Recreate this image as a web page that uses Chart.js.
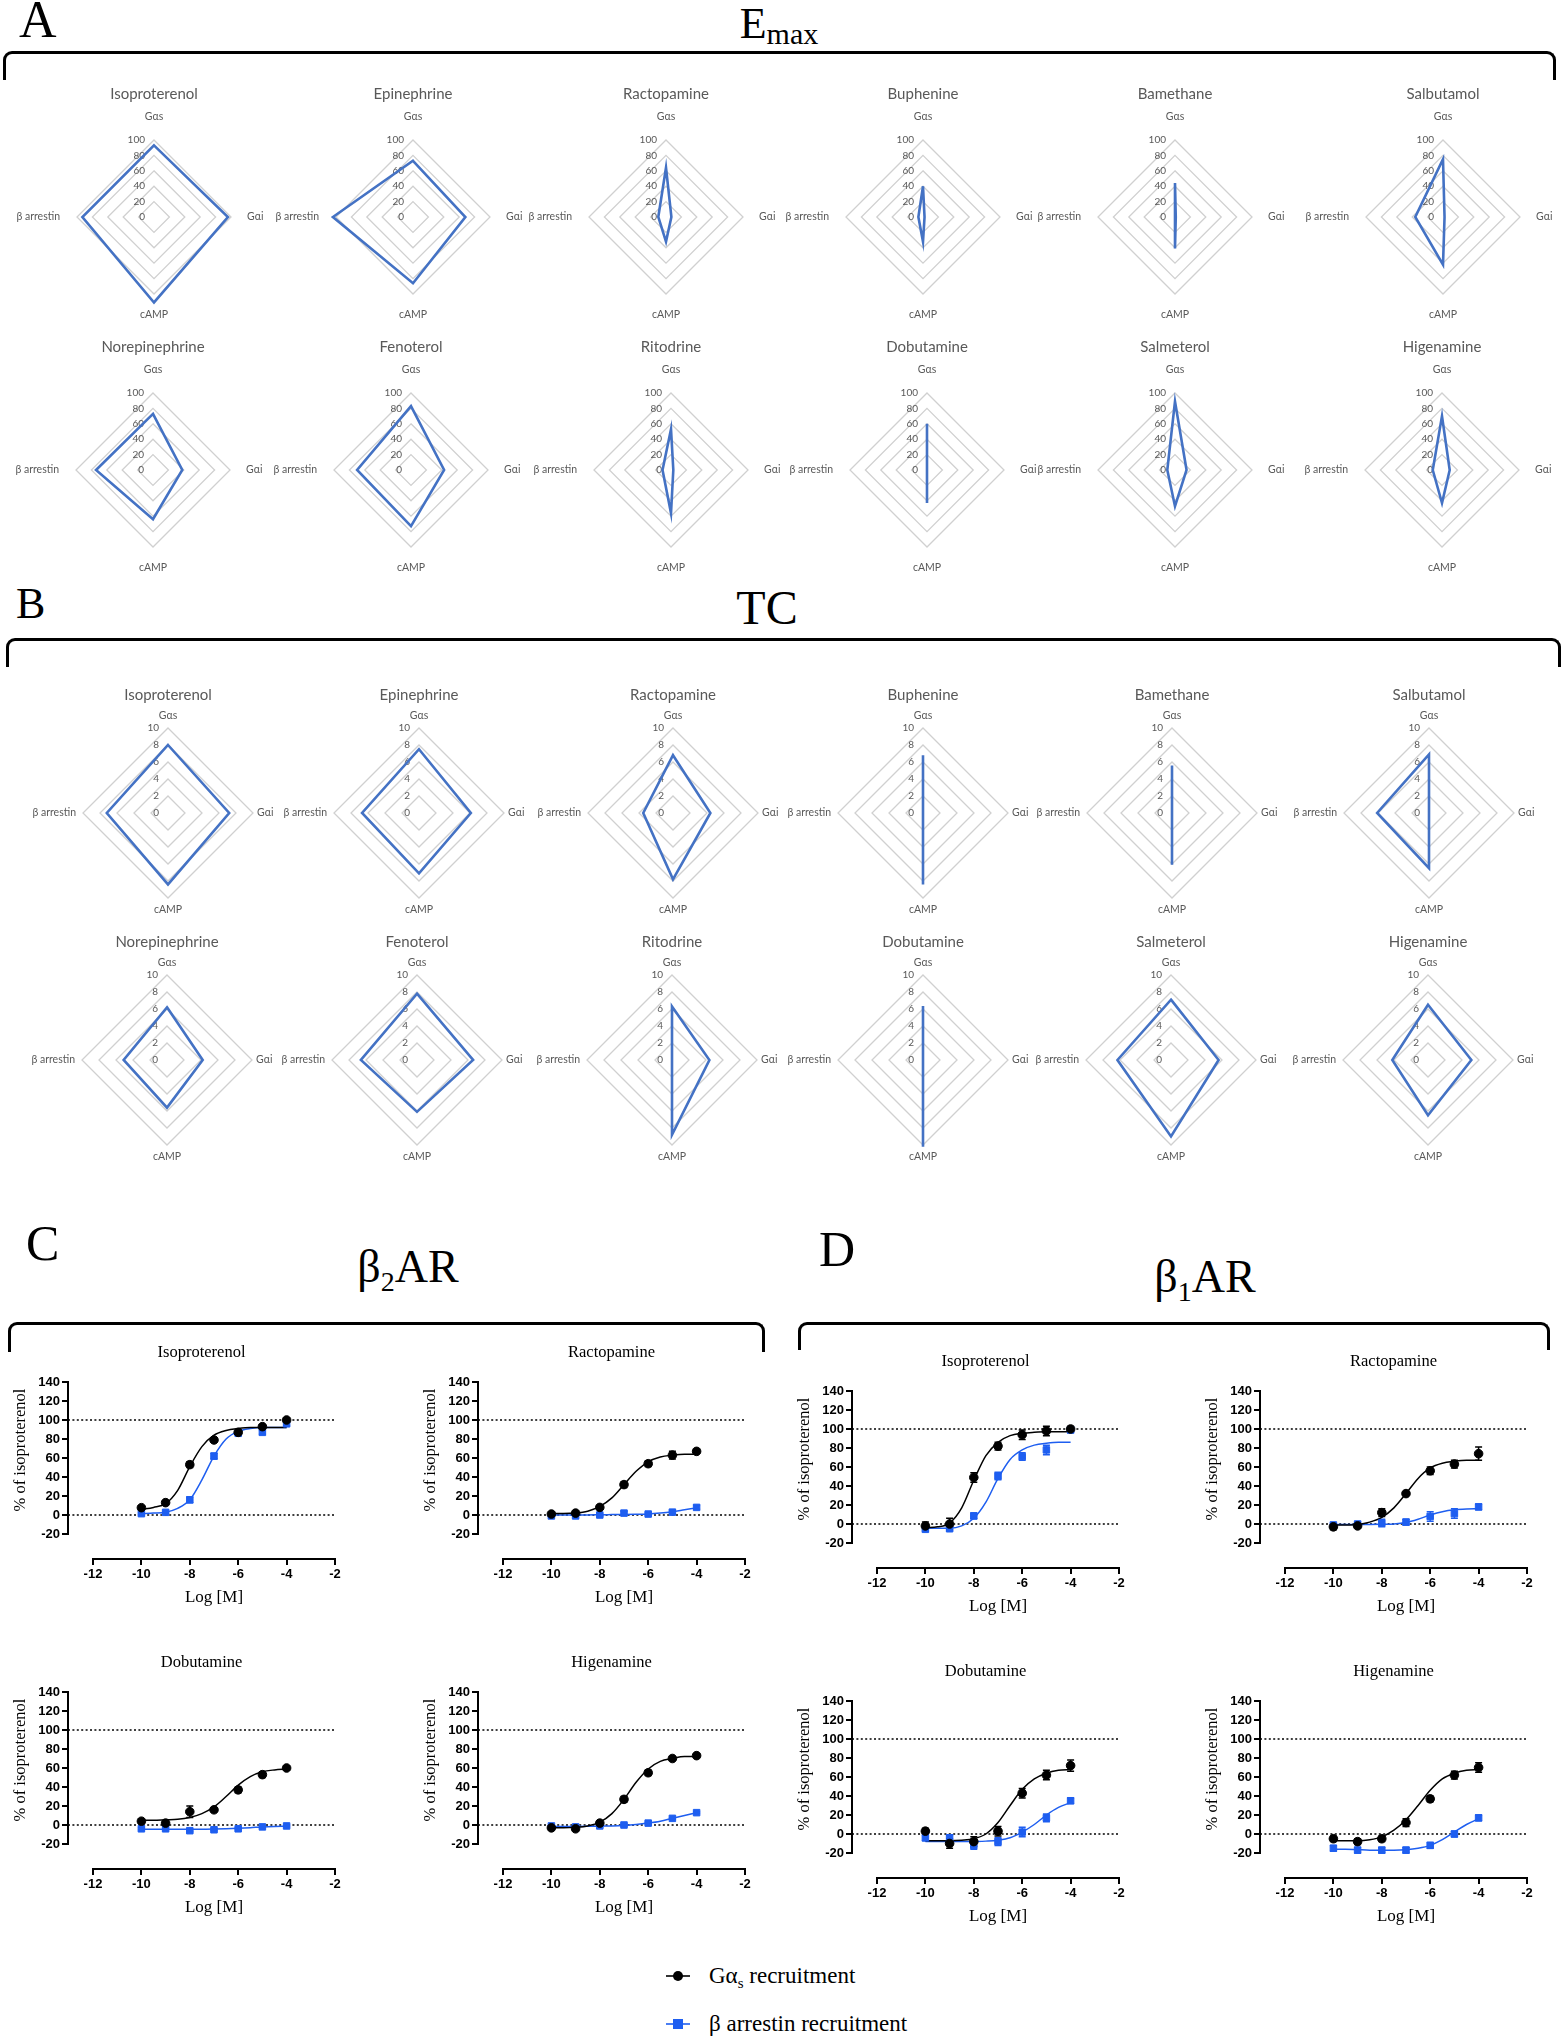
<!DOCTYPE html>
<html>
<head>
<meta charset="utf-8">
<title>Biased agonism radar and concentration-response charts</title>
<script src="https://cdn.jsdelivr.net/npm/chart.js@4.4.0/dist/chart.umd.min.js"></script>
<style>
  html, body { margin: 0; padding: 0; background: #fff; }
  #page { position: relative; width: 1564px; height: 2040px; overflow: hidden; }
  .box { position: absolute; }
  .serif { position: absolute; font-family: "Liberation Serif", "Times New Roman", serif; line-height: 1; color: #000; white-space: nowrap; }
  .head { transform: translateX(-50%); }
  .lo { position: relative; }
  .bracket { position: absolute; box-sizing: border-box; border: 3px solid #000; border-bottom: none; border-radius: 9px 9px 0 0; }
  .lg { position: absolute; left: 664px; height: 28px; display: flex; align-items: center; font-family: "Liberation Serif", serif; font-size: 23px; }
  .lg svg { margin-right: 17px; }
</style>
</head>
<body>
<div id="page">
  <div class="serif" style="left:19px;top:-6px;font-size:52px">A</div>
  <div class="serif head" style="left:779px;top:2px;font-size:44px">E<span class="lo" style="font-size:30px;top:6px">max</span></div>
  <div class="bracket" style="left:3px;top:51px;width:1553px;height:29px"></div>

  <div class="serif" style="left:16px;top:582px;font-size:44px">B</div>
  <div class="serif head" style="left:767px;top:584px;font-size:48px">TC</div>
  <div class="bracket" style="left:6px;top:638px;width:1555px;height:29px"></div>

  <div class="serif" style="left:26px;top:1218px;font-size:50px">C</div>
  <div class="serif head" style="left:408px;top:1244px;font-size:46px">β<span class="lo" style="font-size:28px;top:9px">2</span>AR</div>
  <div class="bracket" style="left:8px;top:1322px;width:757px;height:30px"></div>

  <div class="serif" style="left:819px;top:1224px;font-size:50px">D</div>
  <div class="serif head" style="left:1205px;top:1254px;font-size:46px">β<span class="lo" style="font-size:28px;top:9px">1</span>AR</div>
  <div class="bracket" style="left:798px;top:1322px;width:752px;height:28px"></div>

  <div class="lg" style="top:1962px">
    <svg width="28" height="28" viewBox="0 0 28 28"><line x1="2" y1="14" x2="26" y2="14" stroke="#000" stroke-width="1.6"/><circle cx="14" cy="14" r="5" fill="#000"/></svg>
    <span>Gα<span class="lo" style="font-size:15px;top:5px">s</span> recruitment</span>
  </div>
  <div class="lg" style="top:2010px">
    <svg width="28" height="28" viewBox="0 0 28 28"><line x1="2" y1="14" x2="26" y2="14" stroke="#1e5ef0" stroke-width="1.6"/><rect x="9" y="9" width="10" height="10" fill="#1e5ef0"/></svg>
    <span>β arrestin recruitment</span>
  </div>
</div>

<script>
// ---- panels A and B: radar charts ----
const AXES = ["Gαs", "Gαi", "cAMP", "β arrestin"];
const DRUGS = ["Isoproterenol", "Epinephrine", "Ractopamine", "Buphenine", "Bamethane", "Salbutamol",
  "Norepinephrine", "Fenoterol", "Ritodrine", "Dobutamine", "Salmeterol", "Higenamine"];
const EMAX_TICKS = [0, 20, 40, 60, 80, 100];
const TC_TICKS = [0, 2, 4, 6, 8, 10];

// values per drug, in AXES order
const EMAX = [
  [93, 96, 111, 93],
  [73, 68, 86, 104],
  [64, 7, 32, 10],
  [40, 2, 32, 6],
  [44, 1, 41, 0],
  [75, 2, 62, 36],
  [73, 38, 64, 74],
  [83, 43, 73, 70],
  [53, 3, 56, 11],
  [60, 0, 43, 0],
  [89, 15, 47, 10],
  [70, 10, 43, 12],
];
const TC = [
  [8.0, 7.2, 8.4, 7.2],
  [7.5, 6.1, 7.1, 6.7],
  [6.8, 4.4, 7.8, 3.5],
  [6.8, 0, 8.4, 0],
  [5.6, 0, 6.1, 0],
  [6.9, 0, 6.5, 6.1],
  [6.2, 4.2, 5.6, 5.1],
  [7.8, 6.6, 6.1, 6.6],
  [6.3, 4.4, 8.8, 0],
  [6.35, 0, 10.2, 0],
  [7.1, 5.6, 9.0, 6.3],
  [6.5, 5.1, 6.5, 4.2],
];

// ---- panels C and D: concentration-response ----
const LOG_DOSE = [-10, -9, -8, -7, -6, -5, -4];
const FIT_DOSE = [-10, -9.5, -9, -8.5, -8, -7.5, -7, -6.5, -6, -5.5, -5, -4.5, -4];
const X_TICKS = [-12, -10, -8, -6, -4, -2];
const Y_TICKS = [-20, 0, 20, 40, 60, 80, 100, 120, 140];
const REF_LINES = [0, 100];
const LINE_DRUGS = ["Isoproterenol", "Ractopamine", "Dobutamine", "Higenamine"];

// beta2AR: Isoproterenol, Ractopamine, Dobutamine, Higenamine
const B2_GS = [
  [7.7, 13, 53, 79, 87, 93, 100],
  [1, 2, 8, 32, 54, 63, 67],
  [4, 2, 14, 16, 37, 53, 60],
  [-3, -4, 2, 27, 55, 70, 73],
];
const B2_GS_SEM = [
  [2, 2, 3, 2, 2, 2, 2],
  [2, 2, 2, 3, 3, 4, 2],
  [2, 2, 6, 2, 3, 3, 2],
  [2, 2, 2, 3, 3, 2, 2],
];
const B2_GS_FIT = [
  [6, 8, 12, 26, 51, 72, 84, 89, 91, 92, 92, 92, 92],
  [1.5, 1.5, 2, 4, 9, 18, 32, 46, 56, 61, 63, 64, 64],
  [5, 5, 5.5, 6, 8, 12, 19, 30, 42, 51, 56, 58, 59],
  [-3, -3, -2.5, -1, 3, 12, 27, 45, 59, 67, 70, 72, 72],
];
const B2_ARR = [
  [1.4, 2.8, 16, 62, 86, 87, 96],
  [-1, -1, 0, 2, 1, 3, 8],
  [-4, -4, -6, -5, -4, -2, -1],
  [-1, -2, -1, 0, 2, 7, 13],
];
const B2_ARR_SEM = [
  [1, 1, 3, 3, 2, 2, 2],
  [1, 1, 1, 2, 1, 2, 2],
  [1, 1, 1, 1, 1, 1, 1],
  [1, 1, 1, 1, 1, 1, 1],
];
const B2_ARR_FIT = [
  [1.5, 2, 3, 7, 16, 37, 62, 80, 88, 91, 92, 92, 92],
  [0, 0, 0, 0, 0.3, 0.4, 0.5, 0.7, 1, 2, 3.5, 5.5, 7.5],
  [-4.5, -4.5, -4.5, -4.5, -4.5, -4.4, -4.3, -4, -3.5, -2.8, -2, -1.5, -1.2],
  [-1.5, -1.5, -1.5, -1.4, -1.2, -1, -0.5, 0.5, 2, 4, 7, 10, 13],
];

// beta1AR
const B1_GS = [
  [-2, 0, 49, 82, 94, 98, 100],
  [-3, -2, 12, 32, 56, 63, 74],
  [3, -10, -8, 3, 43, 62, 72],
  [-5, -8, -5, 12, 37, 62, 70],
];
const B1_GS_SEM = [
  [4, 6, 5, 4, 5, 5, 3],
  [3, 2, 4, 2, 4, 4, 7],
  [3, 5, 5, 5, 5, 5, 6],
  [3, 3, 3, 4, 3, 4, 5],
];
const B1_GS_FIT = [
  [-4, -3, 1, 17, 46, 72, 86, 93, 95.5, 96.5, 97, 97, 97],
  [-1, -1, -0.5, 2, 7, 17, 32, 48, 59, 64, 66, 67, 67],
  [-7, -7, -7, -6.5, -5, 0, 12, 30, 47, 58, 64, 67, 68],
  [-7, -7, -7, -6, -3, 4, 15, 30, 46, 58, 64, 67, 68],
];
const B1_ARR = [
  [-5.6, -5, 8.5, 50.5, 71, 78, 99],
  [-1, 0, 1, 2, 8, 11, 18],
  [-4, -4, -12, -8, 2, 17, 35],
  [-15, -17, -17, -17, -12, 0, 17],
];
const B1_ARR_SEM = [
  [2, 2, 3, 4, 4, 5, 3],
  [2, 2, 4, 3, 5, 5, 3],
  [3, 3, 4, 4, 5, 4, 3],
  [3, 3, 3, 3, 3, 3, 3],
];
const B1_ARR_FIT = [
  [-4.5, -4.5, -4.5, -2, 6, 23, 48, 68, 78, 83, 85, 86, 86],
  [-0.5, -0.5, -0.5, -0.5, -0.3, 0, 1.5, 5, 9.5, 13, 15, 15.8, 16],
  [-8, -8, -8, -8, -8, -7.5, -6.5, -4, 2, 10, 20, 28, 33],
  [-16, -16, -16.5, -17, -17, -17, -16.5, -15, -12, -6, 2, 10, 16],
];

// ---- layout ----
const page = document.getElementById("page");
Chart.defaults.font.family = "Liberation Sans";
Chart.defaults.animation = false;

const RADAR_BLUE = "#4472c4";
const PRISM_BLUE = "#1e5ef0";

function addCanvas(left, top, w, h) {
  const div = document.createElement("div");
  div.className = "box";
  div.style.cssText = `left:${left}px;top:${top}px;width:${w}px;height:${h}px`;
  const c = document.createElement("canvas");
  div.appendChild(c);
  page.appendChild(div);
  return c;
}

// Excel-like labels: title, axis names and ticks drawn around the r scale
const radarText = {
  id: "radarText",
  beforeDatasetsDraw(chart, args, o) {
    const s = chart.scales.r;
    const ctx = chart.ctx;
    ctx.save();
    ctx.fillStyle = "#595959";
    ctx.textBaseline = "middle";
    ctx.textAlign = "center";
    ctx.font = "15px Lato";
    ctx.fillText(o.title, s.xCenter, s.yCenter - o.titleGap);
    ctx.font = "10.5px Lato";
    AXES.forEach((lab, i) => {
      const p = s.getPointPosition(i, s.drawingArea + o.gaps[i]);
      ctx.textAlign = i === 1 ? "left" : i === 3 ? "right" : "center";
      ctx.fillText(lab, p.x, p.y);
    });
    ctx.textAlign = "right";
    ctx.font = "10px Lato";
    s.ticks.forEach((t) => {
      ctx.fillText(String(t.value), s.xCenter - 9, s.yCenter - s.getDistanceFromCenterForValue(t.value));
    });
    ctx.restore();
  },
};

function radar(cx, cy, radius, values, ticks, title, textOpts) {
  const half = 150;
  const canvas = addCanvas(cx - half, cy - half, half * 2, half * 2);
  new Chart(canvas, {
    type: "radar",
    data: {
      labels: AXES,
      datasets: [{
        data: values,
        borderColor: RADAR_BLUE,
        borderWidth: 2.6,
        pointRadius: 0,
        fill: false,
        clip: false,
      }],
    },
    options: {
      responsive: true,
      maintainAspectRatio: false,
      layout: { padding: half - radius },
      plugins: {
        legend: { display: false },
        tooltip: { enabled: false },
        radarText: Object.assign({ title }, textOpts),
      },
      scales: {
        r: {
          min: ticks[0],
          max: ticks[ticks.length - 1],
          afterBuildTicks: (s) => { s.ticks = ticks.map((v) => ({ value: v })); },
          ticks: { display: false },
          pointLabels: { display: false },
          angleLines: { display: false },
          grid: { color: "#d0d0d0", lineWidth: 1.3 },
        },
      },
    },
    plugins: [radarText],
  });
}

const EMAX_X = [[154, 413, 666, 923, 1175, 1443], [153, 411, 671, 927, 1175, 1442]];
const EMAX_Y = [217, 470];
const TC_X = [[168, 419, 673, 923, 1172, 1429], [167, 417, 672, 923, 1171, 1428]];
const TC_Y = [813, 1060];

DRUGS.forEach((name, i) => {
  const row = Math.floor(i / 6), col = i % 6;
  radar(EMAX_X[row][col], EMAX_Y[row], 77, EMAX[i], EMAX_TICKS, name,
    { titleGap: 123, gaps: [23, 16, 21, 17] });
  radar(TC_X[row][col], TC_Y[row], 85, TC[i], TC_TICKS, name,
    { titleGap: 118, gaps: [12, 4, 12, 7] });
});

// Prism-style axes: offset x axis, dotted reference lines, error bars, titles
const AXIS_H = 152;      // px from 140 to -20
const XAXIS_DROP = 177;  // px from 140 down to the x axis line
const X_GAP = 25;        // px from y axis to x = -12
const X_LEN = 242;       // px from -12 to -2
const PAD_TOP = 45, Y_W = 68, X_H = 55, PAD_R = 12;

const prismAxes = {
  id: "prismAxes",
  beforeDatasetsDraw(chart) {
    const x = chart.scales.x, y = chart.scales.y, ctx = chart.ctx;
    const left = chart.chartArea.left, bottom = chart.chartArea.bottom;
    const x0 = x.getPixelForValue(X_TICKS[0]);
    const x1 = x.getPixelForValue(X_TICKS[X_TICKS.length - 1]);
    ctx.save();
    ctx.strokeStyle = "#000";
    ctx.lineWidth = 1.6;
    ctx.setLineDash([2, 2.4]);
    REF_LINES.forEach((v) => {
      const py = y.getPixelForValue(v);
      ctx.beginPath(); ctx.moveTo(left, py); ctx.lineTo(x1, py); ctx.stroke();
    });
    ctx.setLineDash([]);
    ctx.lineWidth = 2;
    ctx.beginPath();
    ctx.moveTo(left, y.getPixelForValue(Y_TICKS[Y_TICKS.length - 1]) - 1);
    ctx.lineTo(left, y.getPixelForValue(Y_TICKS[0]) + 1);
    ctx.stroke();
    ctx.beginPath(); ctx.moveTo(x0 - 1, bottom); ctx.lineTo(x1 + 1, bottom); ctx.stroke();
    chart.data.datasets.forEach((ds) => {
      if (!ds.sem) return;
      ctx.strokeStyle = ds.backgroundColor;
      ctx.lineWidth = 1.5;
      ds.data.forEach((pt, j) => {
        const px = x.getPixelForValue(pt.x);
        const t = y.getPixelForValue(pt.y + ds.sem[j]);
        const b = y.getPixelForValue(pt.y - ds.sem[j]);
        ctx.beginPath();
        ctx.moveTo(px, t); ctx.lineTo(px, b);
        ctx.moveTo(px - 3.5, t); ctx.lineTo(px + 3.5, t);
        ctx.moveTo(px - 3.5, b); ctx.lineTo(px + 3.5, b);
        ctx.stroke();
      });
    });
    ctx.restore();
  },
  afterDraw(chart, args, o) {
    const x = chart.scales.x, y = chart.scales.y, ctx = chart.ctx;
    const a = chart.chartArea;
    const x0 = x.getPixelForValue(X_TICKS[0]);
    const x1 = x.getPixelForValue(X_TICKS[X_TICKS.length - 1]);
    const yTop = y.getPixelForValue(Y_TICKS[Y_TICKS.length - 1]);
    const yBot = y.getPixelForValue(Y_TICKS[0]);
    ctx.save();
    ctx.fillStyle = "#000";
    ctx.textAlign = "center";
    ctx.textBaseline = "middle";
    ctx.font = "16.5px 'Liberation Serif'";
    ctx.fillText(o.title, (a.left + x1) / 2, a.top - 29);
    ctx.font = "17px 'Liberation Serif'";
    ctx.fillText("Log [M]", (x0 + x1) / 2, a.bottom + 39);
    ctx.translate(a.left - 47, (yTop + yBot) / 2 - 8);
    ctx.rotate(-Math.PI / 2);
    ctx.font = "16.5px 'Liberation Serif'";
    ctx.fillText("% of isoproterenol", 0, 0);
    ctx.restore();
  },
};

function pts(xs, ys) { return xs.map((v, i) => ({ x: v, y: ys[i] })); }

function doseChart(axisX, y140, title, gs, gsSem, gsFit, arr, arrSem, arrFit) {
  const w = Y_W + X_GAP + X_LEN + PAD_R;
  const h = PAD_TOP + XAXIS_DROP + X_H;
  const canvas = addCanvas(axisX - Y_W, y140 - PAD_TOP, w, h);
  const tickFont = { family: "Liberation Sans", weight: "bold", size: 13 };
  const yMin = 140 - XAXIS_DROP * 160 / AXIS_H;
  const xMin = -12 - X_GAP * 10 / X_LEN;
  new Chart(canvas, {
    type: "scatter",
    data: {
      datasets: [
        { data: pts(LOG_DOSE, gs), sem: gsSem, backgroundColor: "#000", borderColor: "#000",
          pointStyle: "circle", pointRadius: 4.3, showLine: false },
        { data: pts(LOG_DOSE, arr), sem: arrSem, backgroundColor: PRISM_BLUE, borderColor: PRISM_BLUE,
          pointStyle: "rect", pointRadius: 4.6, showLine: false },
        { data: pts(FIT_DOSE, gsFit), borderColor: "#000", borderWidth: 1.5, pointRadius: 0,
          showLine: true, cubicInterpolationMode: "monotone" },
        { data: pts(FIT_DOSE, arrFit), borderColor: PRISM_BLUE, borderWidth: 1.5, pointRadius: 0,
          showLine: true, cubicInterpolationMode: "monotone" },
      ],
    },
    options: {
      responsive: true,
      maintainAspectRatio: false,
      layout: { padding: { top: PAD_TOP, left: 0, right: PAD_R, bottom: 0 } },
      plugins: { legend: { display: false }, tooltip: { enabled: false }, prismAxes: { title } },
      scales: {
        x: {
          type: "linear", min: xMin, max: -2,
          afterBuildTicks: (s) => { s.ticks = X_TICKS.map((v) => ({ value: v })); },
          afterFit: (s) => { s.height = X_H; },
          border: { display: false },
          grid: { drawOnChartArea: false, drawTicks: true, tickLength: 6, color: "#000", lineWidth: 2 },
          ticks: { color: "#000", font: tickFont, padding: 2, maxRotation: 0, autoSkip: false },
        },
        y: {
          type: "linear", min: yMin, max: 140,
          afterBuildTicks: (s) => { s.ticks = Y_TICKS.map((v) => ({ value: v })); },
          afterFit: (s) => { s.width = Y_W; },
          border: { display: false },
          grid: { drawOnChartArea: false, drawTicks: true, tickLength: 6, color: "#000", lineWidth: 2 },
          ticks: { color: "#000", font: tickFont, padding: 2, autoSkip: false },
        },
      },
    },
    plugins: [prismAxes],
  });
}

const C_AXIS_X = [68, 478], C_TOP = [1382, 1692];
const D_AXIS_X = [852, 1260], D_TOP = [1391, 1701];

LINE_DRUGS.forEach((name, i) => {
  const row = Math.floor(i / 2), col = i % 2;
  doseChart(C_AXIS_X[col], C_TOP[row], name, B2_GS[i], B2_GS_SEM[i], B2_GS_FIT[i], B2_ARR[i], B2_ARR_SEM[i], B2_ARR_FIT[i]);
  doseChart(D_AXIS_X[col], D_TOP[row], name, B1_GS[i], B1_GS_SEM[i], B1_GS_FIT[i], B1_ARR[i], B1_ARR_SEM[i], B1_ARR_FIT[i]);
});
</script>
</body>
</html>
